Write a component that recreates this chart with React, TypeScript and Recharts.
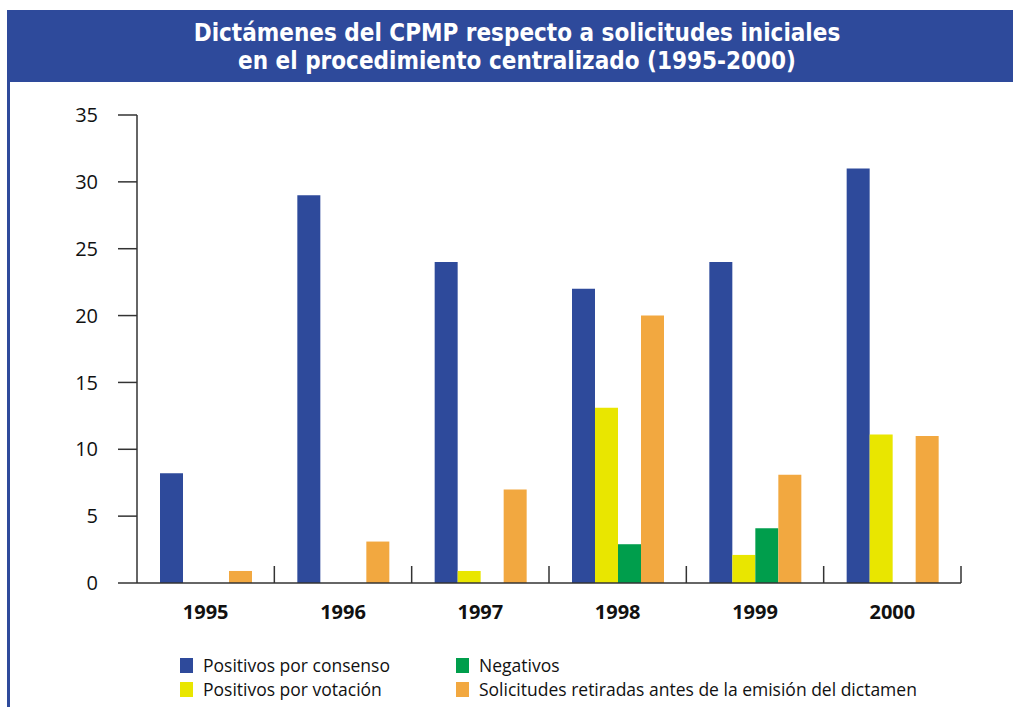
import { BarChart, Bar, XAxis, YAxis } from "recharts";

const years = ["1995", "1996", "1997", "1998", "1999", "2000"];
const consenso = [8.2, 29, 24, 22, 24, 31];
const votacion = [0, 0, 0.9, 13.1, 2.1, 11.1];
const negativos = [0, 0, 0, 2.9, 4.1, 0];
const retiradas = [0.9, 3.1, 7, 20, 8.1, 11];
const yTicks = [0, 5, 10, 15, 20, 25, 30, 35];

const BLUE = "#2E4A9B";
const YELLOW = "#E9E600";
const GREEN = "#009E4C";
const ORANGE = "#F2A840";
const FONT = "'Open Sans', 'Noto Sans', sans-serif";
const TITLE_FONT = "'DejaVu Sans Condensed', 'DejaVu Sans', sans-serif";

const series = [
    { key: "consenso", name: "Positivos por consenso", color: BLUE },
    { key: "votacion", name: "Positivos por votación", color: YELLOW },
    { key: "negativos", name: "Negativos", color: GREEN },
    { key: "retiradas", name: "Solicitudes retiradas antes de la emisión del dictamen", color: ORANGE },
];

const data = years.map((year, i) => ({
    year,
    consenso: consenso[i],
    votacion: votacion[i],
    negativos: negativos[i],
    retiradas: retiradas[i],
}));

function YearTick(props: any) {
    const { x, y, payload } = props;
    const half = payload && payload.offset ? payload.offset : 68.7;
    return (
        <g>
            <line x1={x + half} x2={x + half} y1={y - 17} y2={y} stroke="#333" strokeWidth={1.5} />
            <text
                x={x}
                y={y + 36}
                textAnchor="middle"
                fontFamily={FONT}
                fontWeight={700}
                fontSize={20}
                fill="#111"
            >
                {payload.value}
            </text>
        </g>
    );
}

function LegendBox() {
    return (
        <div
            style={{
                position: "absolute",
                left: 180,
                top: 653,
                display: "grid",
                gridTemplateRows: "24px 24px",
                gridTemplateColumns: "276px 500px",
                gridAutoFlow: "column",
                fontFamily: FONT,
                fontSize: 17.5,
                color: "#111",
            }}
        >
            {series.map((s) => (
                <div key={s.key} style={{ display: "flex", alignItems: "center", whiteSpace: "nowrap" }}>
                    <span
                        style={{
                            display: "inline-block",
                            width: 13,
                            height: 15,
                            background: s.color,
                            marginRight: 10,
                        }}
                    />
                    {s.name}
                </div>
            ))}
        </div>
    );
}

export default function App() {
    return (
        <div style={{ position: "absolute", left: 0, top: 0, width: 1013, height: 707, background: "#fff", overflow: "hidden" }}>
            <div
                style={{
                    position: "absolute",
                    left: 7,
                    top: 10,
                    width: 1006,
                    height: 72,
                    background: BLUE,
                    color: "#fff",
                    fontFamily: TITLE_FONT,
                    fontWeight: 700,
                    fontSize: 24,
                    lineHeight: "28px",
                    textAlign: "center",
                    paddingTop: 9,
                    boxSizing: "border-box",
                }}
            >
                <div style={{ marginLeft: 14 }}>Dictámenes del CPMP respecto a solicitudes iniciales</div>
                <div style={{ marginLeft: 14 }}>en el procedimiento centralizado (1995-2000)</div>
            </div>
            <div style={{ position: "absolute", left: 7, top: 82, width: 3, height: 625, background: BLUE }} />
            <div style={{ position: "absolute", left: 0, top: 0 }}>
                <BarChart
                    width={1013}
                    height={707}
                    data={data}
                    margin={{ top: 115, right: 52, bottom: 74, left: 0 }}
                    barGap={0}
                >
                    <XAxis
                        dataKey="year"
                        axisLine={{ stroke: "#333", strokeWidth: 1.5 }}
                        tickLine={false}
                        tickSize={0}
                        tickMargin={0}
                        tick={<YearTick />}
                        height={50}
                        interval={0}
                    />
                    <YAxis
                        width={137}
                        domain={[0, 35]}
                        ticks={yTicks}
                        interval={0}
                        axisLine={{ stroke: "#333", strokeWidth: 1.5 }}
                        tickLine={{ stroke: "#333", strokeWidth: 1.5 }}
                        tickSize={19}
                        tickMargin={20}
                        tick={{ fontFamily: FONT, fontSize: 20, fill: "#111" }}
                    />
                    {series.map((s) => (
                        <Bar
                            key={s.key}
                            dataKey={s.key}
                            name={s.name}
                            fill={s.color}
                            barSize={23}
                            isAnimationActive={false}
                        />
                    ))}
                </BarChart>
            </div>
            <LegendBox />
        </div>
    );
}
